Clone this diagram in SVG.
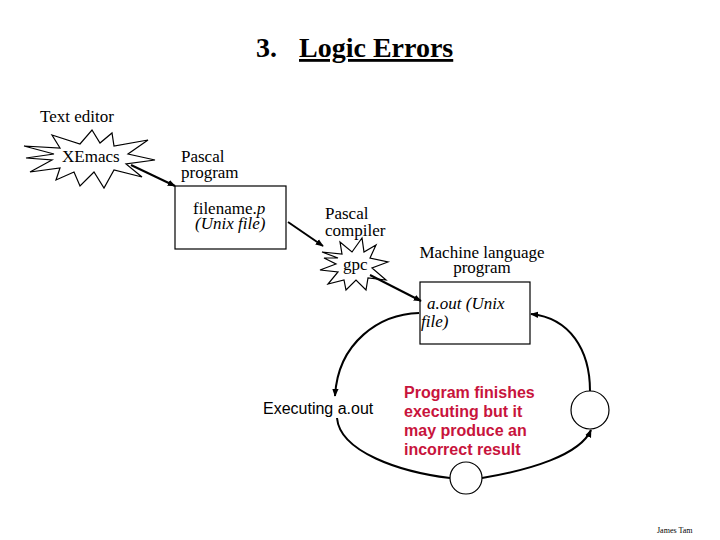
<svg xmlns="http://www.w3.org/2000/svg" width="720" height="540" viewBox="0 0 720 540">
<defs>
<marker id="ah" viewBox="0 0 10 10" refX="9" refY="5" markerWidth="8" markerHeight="8" markerUnits="userSpaceOnUse" orient="auto"><path d="M0,1 L10,5 L0,9 Z" fill="#000"/></marker>
<style>
.serif{font-family:"Liberation Serif","DejaVu Serif","Times New Roman",serif;font-size:17px;fill:#000}
.ital{font-style:italic}
.sans{font-family:"Liberation Sans",Arial,sans-serif;font-size:16px;fill:#000}
.red{font-family:"Liberation Sans",Arial,sans-serif;font-size:16px;font-weight:bold;fill:#c8143c}
.title{font-family:"Liberation Serif","DejaVu Serif","Times New Roman",serif;font-size:28px;font-weight:bold;fill:#000}
.shape{fill:#fff;stroke:#000;stroke-width:1.2}
.conn{fill:none;stroke:#000;stroke-width:2}
</style>
</defs>
<rect width="720" height="540" fill="#fff"/>
<g id="title">
<text class="title" x="256" y="57">3.</text>
<text class="title" x="299" y="57" text-decoration="underline">Logic Errors</text>
</g>
<text class="serif" x="40" y="122">Text editor</text>
<g id="xemacs">
<polygon class="shape" points="24,146 60,148 52,135 80,144 92,130 100,143 112,133 114,146 148,140 128,154 155,160 126,164 142,177 114,170 104,188 94,172 80,186 74,172 56,180 60,168 30,172 52,160 26,158 54,154"/>
<text class="serif" x="62" y="162">XEmacs</text>
</g>
<text class="serif" x="181" y="162">Pascal</text>
<text class="serif" x="181" y="178">program</text>
<g id="filename">
<rect class="shape" x="175" y="186" width="111" height="63"/>
<text class="serif" x="193" y="214">filename.<tspan class="ital">p</tspan></text>
<text class="serif ital" x="195" y="229">(Unix file)</text>
</g>
<text class="serif" x="325" y="219">Pascal</text>
<text class="serif" x="325" y="236">compiler</text>
<g id="gpc">
<polygon class="shape" points="322,252 342,254 340,242 352,252 362,238 364,252 376,245 370,258 388,262 372,268 386,280 368,278 366,290 356,280 346,290 344,280 328,284 338,272 320,270 336,264 324,258 338,258"/>
<text class="serif" x="343" y="270">gpc</text>
</g>
<text class="serif" x="482" y="258" text-anchor="middle">Machine language</text>
<text class="serif" x="482" y="273" text-anchor="middle">program</text>
<g id="aout">
<rect class="shape" x="420" y="282" width="110" height="62"/>
<text class="serif ital" x="427" y="309">a.out (Unix</text>
<text class="serif ital" x="421" y="327">file)</text>
</g>
<g id="exec">
<text class="sans" x="263" y="414">Executing a.out</text>
</g>
<g id="result">
<text class="red" x="404" y="398">Program finishes</text>
<text class="red" x="404" y="417">executing but it</text>
<text class="red" x="404" y="436">may produce an</text>
<text class="red" x="404" y="455">incorrect result</text>
</g>
<g id="circle-bottom"><circle class="shape" cx="466" cy="478" r="16" stroke-width="2"/></g>
<g id="circle-right"><circle class="shape" cx="590" cy="410" r="19" stroke-width="2"/></g>
<g id="connectors">
<line class="conn" x1="131" y1="165" x2="175" y2="186" marker-end="url(#ah)"/>
<line class="conn" x1="288" y1="222" x2="323" y2="246" marker-end="url(#ah)"/>
<line class="conn" x1="370" y1="275" x2="421" y2="301" marker-end="url(#ah)"/>
<path class="conn" d="M419,313 C380,314 338,342 335,396" marker-end="url(#ah)"/>
<path class="conn" d="M337,418 C340,452 400,472 450,478"/>
<path class="conn" d="M482,478 C530,470 580,455 591,430" marker-end="url(#ah)"/>
<path class="conn" d="M590,391 C590,350 570,318 531,314" marker-end="url(#ah)"/>
</g>
<text x="657" y="533" style="font-family:'Liberation Serif',serif;font-size:8px">James Tam</text>
</svg>
